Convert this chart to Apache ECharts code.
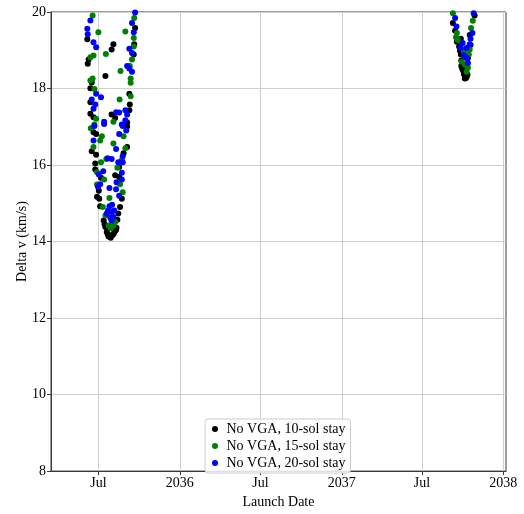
<!DOCTYPE html>
<html>
<head>
<meta charset="utf-8">
<script src="https://cdn.jsdelivr.net/npm/echarts@6/dist/echarts.min.js"></script>
<style>
  html, body { margin: 0; padding: 0; background: #fff; }
  #chart { width: 524px; height: 514px; }
</style>
</head>
<body>
<div id="chart"></div>
<script>
// Launch date vs. delta v for Mars missions without Venus gravity assist
const tenSol = [
  ['2035-06-06',19.29],['2035-06-09',18.76],['2035-06-07',18.65],['2035-08-04',19.16],['2035-07-31',19.02],
  ['2035-09-22',19.58],['2035-09-20',19.16],['2035-09-19',18.89],['2035-07-17',18.33],['2035-06-16',18.16],
  ['2035-06-13',18.01],['2035-06-13',17.64],['2035-06-13',17.34],['2035-06-20',17.25],['2035-09-09',17.86],
  ['2035-09-10',17.58],['2035-09-09',17.43],['2035-07-31',17.32],['2035-08-08',17.23],['2035-09-04',17.11],
  ['2035-09-04',17.01],['2035-06-26',16.81],['2035-06-20',16.86],['2035-06-16',16.36],['2035-06-26',16.27],
  ['2035-09-04',16.47],['2035-08-27',16.31],['2035-06-24',16.04],['2035-08-17',15.95],['2035-06-24',15.88],
  ['2035-07-07',15.67],['2035-08-08',15.73],['2035-08-17',15.69],['2035-07-02',15.33],['2035-06-28',15.17],
  ['2035-07-03',15.12],['2035-08-23',15.12],['2035-07-05',14.92],['2035-08-19',14.90],['2035-08-15',14.73],
  ['2035-07-13',14.55],['2035-08-13',14.57],['2035-07-17',14.38],['2035-08-11',14.36],['2035-07-20',14.25],
  ['2035-08-08',14.28],['2035-07-26',14.16],['2035-07-31',14.16],['2035-07-29',14.10],['2035-07-22',14.20],
  ['2035-08-03',14.18],['2035-07-24',14.13],['2035-08-05',14.22],['2035-07-15',14.45],['2035-08-10',14.31],
  ['2037-10-28',19.91],['2037-09-09',19.71],['2037-09-14',19.51],['2037-09-27',19.30],['2037-09-18',19.22],
  ['2037-09-23',19.10],['2037-09-25',18.99],['2037-09-27',18.89],['2037-09-28',18.73],['2037-09-28',18.59],
  ['2037-10-02',18.47],['2037-10-04',18.37],['2037-10-10',18.30],['2037-10-06',18.26],['2037-10-17',19.40],
  ['2037-10-19',19.14],['2037-10-13',18.80],['2037-10-08',18.27],['2037-09-30',18.52],['2037-10-12',18.36]
];

const fifteenSol = [
  ['2035-06-18',19.91],['2035-07-01',19.47],['2035-06-20',18.86],['2035-06-13',18.82],['2035-07-18',18.90],
  ['2035-09-20',19.84],['2035-08-31',19.49],['2035-09-19',19.32],['2035-09-19',19.10],['2035-09-15',18.76],
  ['2035-09-10',18.59],['2035-08-20',18.46],['2035-09-12',18.26],['2035-09-12',18.15],['2035-06-18',18.26],
  ['2035-06-13',18.21],['2035-06-22',17.99],['2035-08-18',17.71],['2035-09-12',17.80],['2035-06-26',17.21],
  ['2035-08-04',17.13],['2035-06-22',17.06],['2035-06-14',16.96],['2035-08-27',16.75],['2035-07-09',16.75],
  ['2035-07-05',16.64],['2035-06-20',16.47],['2035-08-04',16.56],['2035-08-31',16.44],['2035-08-23',16.13],
  ['2035-07-19',16.16],['2035-07-07',16.07],['2035-08-13',15.93],['2035-06-28',15.81],['2035-07-14',15.62],
  ['2035-06-28',15.49],['2035-08-19',15.50],['2035-08-25',15.29],['2035-07-26',15.14],['2035-07-11',14.90],
  ['2035-07-17',14.68],['2035-08-08',14.51],['2035-07-24',14.42],['2035-08-04',14.42],['2035-07-29',14.35],
  ['2035-08-01',14.40],
  ['2037-09-09',19.97],['2037-10-24',19.77],['2037-10-20',19.58],['2037-09-18',19.45],['2037-09-16',19.34],
  ['2037-10-17',19.02],['2037-10-04',18.97],['2037-10-15',18.89],['2037-10-06',18.63],['2037-10-13',18.54],
  ['2037-10-10',18.44],['2037-09-20',19.27],['2037-09-29',18.70]
];

const twentySol = [
  ['2035-06-13',19.78],['2035-06-06',19.56],['2035-06-07',19.42],['2035-06-20',19.21],['2035-06-26',19.08],
  ['2035-09-22',19.99],['2035-09-15',19.71],['2035-09-19',19.47],['2035-09-09',19.04],['2035-09-15',18.93],
  ['2035-09-04',18.59],['2035-09-09',18.52],['2035-09-15',18.44],['2035-06-26',17.86],['2035-07-07',17.77],
  ['2035-06-16',17.71],['2035-06-24',17.58],['2035-06-20',17.47],['2035-08-10',17.38],['2035-08-17',17.37],
  ['2035-08-31',17.43],['2035-09-04',17.32],['2035-07-14',17.13],['2035-08-31',17.17],['2035-08-23',17.06],
  ['2035-06-22',17.02],['2035-07-14',17.07],['2035-08-25',17.02],['2035-09-02',16.90],['2035-08-17',16.81],
  ['2035-06-20',16.64],['2035-08-10',16.42],['2035-08-25',16.23],['2035-07-22',16.18],['2035-07-31',16.16],
  ['2035-08-15',16.07],['2035-08-25',16.07],['2035-07-02',15.75],['2035-07-12',15.84],['2035-08-23',15.80],
  ['2035-08-23',15.62],['2035-07-05',15.50],['2035-08-11',15.55],['2035-07-26',15.40],['2035-08-10',15.37],
  ['2035-06-30',15.43],['2035-08-17',15.20],['2035-07-26',14.92],['2035-07-31',14.77],['2035-07-20',14.73],
  ['2035-08-04',14.64],['2035-07-28',14.62],['2035-07-31',14.55],['2035-07-23',14.81],['2035-08-06',14.81],
  ['2035-08-01',14.96],
  ['2037-10-26',19.97],['2037-09-14',19.84],['2037-09-17',19.62],['2037-10-23',19.45],['2037-10-19',19.30],
  ['2037-10-01',19.19],['2037-10-17',19.16],['2037-09-27',19.06],['2037-10-10',19.06],['2037-10-04',18.87],
  ['2037-10-10',18.80],['2037-10-13',18.67]
];

const seriesNames = ['No VGA, 10-sol stay', 'No VGA, 15-sol stay', 'No VGA, 20-sol stay'];
const xTickDates = ['2035-07-01','2036-01-01','2036-07-01','2037-01-01','2037-07-01','2038-01-01'];
const xTickLabels = ['Jul','2036','Jul','2037','Jul','2038'];
const xRange = ['2035-03-16','2038-01-07'];
const yTicks = [8, 10, 12, 14, 16, 18, 20];

const ts = s => Date.parse(s + 'T00:00:00Z');
const toPoints = arr => arr.map(([d, v]) => [ts(d), v]);
const tickTimes = xTickDates.map(ts);
const labelFor = v => {
  const i = tickTimes.indexOf(v);
  return i >= 0 ? xTickLabels[i] : '';
};

const font = 'Liberation Serif, Times New Roman, serif';
const frame = '#3a3a3a';

const chart = echarts.init(document.getElementById('chart'), null, { renderer: 'canvas' });
chart.setOption({
  animation: false,
  backgroundColor: '#ffffff',
  textStyle: { fontFamily: font },
  grid: {
    left: 51, right: 18, top: 12, bottom: 39,
    show: true, borderColor: frame, borderWidth: 1, backgroundColor: 'transparent'
  },
  legend: {
    orient: 'vertical',
    left: 205, top: 419,
    data: seriesNames,
    icon: 'circle',
    itemWidth: 13, itemHeight: 6, itemGap: 3,
    padding: [3, 5, 3, 7],
    backgroundColor: 'rgba(255,255,255,0.85)',
    borderColor: '#cccccc', borderWidth: 1, borderRadius: 3,
    textStyle: { fontFamily: font, fontSize: 14, color: '#000', lineHeight: 13 }
  },
  xAxis: {
    type: 'value',
    min: ts(xRange[0]), max: ts(xRange[1]),
    name: 'Launch Date', nameLocation: 'middle', nameGap: 20,
    nameTextStyle: { fontFamily: font, fontSize: 14, color: '#000' },
    axisLine: { show: true, lineStyle: { color: frame, width: 1 } },
    axisTick: { show: true, length: 4, customValues: tickTimes, lineStyle: { color: frame } },
    axisLabel: { customValues: tickTimes, formatter: labelFor, fontFamily: font, fontSize: 14, color: '#000', margin: 5 },
    splitLine: { show: true, lineStyle: { color: '#cfcfcf', width: 1 } }
  },
  yAxis: {
    type: 'value',
    min: yTicks[0], max: yTicks[yTicks.length - 1], interval: 2,
    name: 'Delta v (km/s)', nameLocation: 'middle', nameGap: 22, nameMoveOverlap: false,
    nameTextStyle: { fontFamily: font, fontSize: 14, color: '#000' },
    axisLine: { show: true, lineStyle: { color: frame, width: 1 } },
    axisTick: { show: true, length: 4, lineStyle: { color: frame } },
    axisLabel: { fontFamily: font, fontSize: 14, color: '#000', margin: 5 },
    splitLine: { show: true, lineStyle: { color: '#cfcfcf', width: 1 } }
  },
  series: [
    { name: seriesNames[0], type: 'scatter', data: toPoints(tenSol), symbolSize: 6, itemStyle: { color: '#000000', opacity: 1 } },
    { name: seriesNames[1], type: 'scatter', data: toPoints(fifteenSol), symbolSize: 6, itemStyle: { color: '#008000', opacity: 1 } },
    { name: seriesNames[2], type: 'scatter', data: toPoints(twentySol), symbolSize: 6, itemStyle: { color: '#0000ff', opacity: 1 } }
  ]
});
</script>
</body>
</html>
